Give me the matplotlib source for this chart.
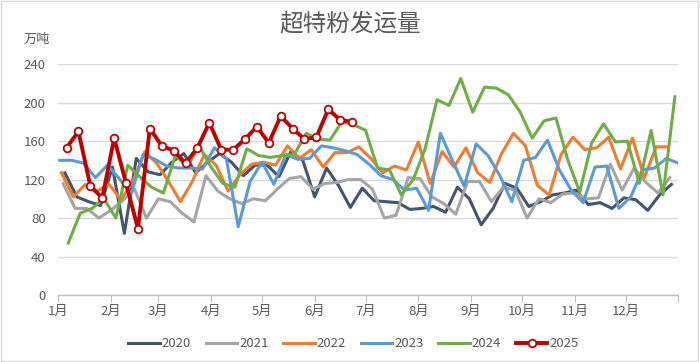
import numpy as np
import matplotlib
matplotlib.use("Agg")
import matplotlib.pyplot as plt
from matplotlib.patches import Rectangle

plt.rcParams["font.family"] = ["Noto Sans CJK SC", "DejaVu Sans"]

# ---------------- DATA ----------------

years = ["2020", "2021", "2022", "2023", "2024", "2025"]
colors = ["#44546A", "#A5A5A5", "#ED7D31", "#5B9BD5", "#70AD47", "#C00000"]

# first week day-of-year for each year (weekly data)
start_day = [4, 3, 2, 1, 6, 5]

v2020 = [127, 102, 97, 93, 133, 64, 142, 128, 125, 138,
         147, 127, 138, 147, 138, 124, 135, 135, 123, 149,
         140, 102, 132, 114, 91, 111, 98, 97, 96, 89,
         90, 92, 86, 112, 100, 73, 90, 116, 111, 92,
         97, 104, 106, 109, 94, 96, 90, 101, 99, 88,
         104, 115]
v2021 = [116, 90, 90, 80, 88, 98, 110, 80, 100, 97,
         85, 76, 124, 108, 100, 95, 100, 98, 110, 121,
         123, 110, 116, 117, 120, 120, 110, 80, 83, 122,
         121, 102, 95, 84, 118, 118, 97, 112, 109, 80,
         100, 96, 105, 106, 100, 101, 136, 109, 132, 117,
         106, 122]
v2022 = [127, 102, 115, 108, 115, 99, 118, 149, 137, 118,
         97, 118, 146, 135, 108, 125, 136, 138, 135, 155,
         142, 151, 133, 148, 148, 154, 142, 127, 134, 130,
         159, 116, 149, 133, 153, 127, 117, 147, 168, 155,
         114, 104, 146, 164, 151, 153, 164, 131, 163, 122,
         154, 154]
v2023 = [140, 140, 137, 122, 135, 121, 105, 146, 141, 134,
         132, 132, 131, 153, 142, 71, 118, 138, 115, 146,
         141, 142, 155, 153, 150, 146, 136, 124, 120, 109,
         111, 88, 168, 140, 113, 157, 145, 124, 97, 140,
         143, 161, 130, 109, 96, 133, 134, 90, 102, 130,
         132, 142, 137]
v2024 = [54, 85, 90, 100, 80, 135, 123, 112, 106, 145,
         133, 155, 133, 116, 112, 152, 145, 143, 145, 146,
         168, 162, 161, 180, 177, 171, 132, 130, 104, 120,
         152, 203, 197, 225, 190, 216, 215, 208, 190, 163,
         181, 184, 140, 107, 158, 178, 159, 160, 116, 171,
         104, 206]
v2025 = [153, 170, 113, 101, 163, 116, 69, 173, 155, 150,
         137, 153, 179, 151, 151, 162, 175, 158, 186, 173,
         162, 164, 193, 182, 180]

series = [v2020, v2021, v2022, v2023, v2024, v2025]

month_labels = ["1月", "2月", "3月", "4月", "5月", "6月",
                "7月", "8月", "9月", "10月", "11月", "12月"]
month_starts = [0, 31, 59, 90, 120, 151, 181, 212, 243, 273, 304, 334, 365]

# ---------------- PLOT ----------------

fig = plt.figure(figsize=(7.0, 3.62), dpi=100)
ax = fig.add_axes([0.083, 0.185, 0.886, 0.638])

for name, vals, c, s in zip(years, series, colors, start_day):
    x = s + 7 * np.arange(len(vals))
    if name == "2025":
        ax.plot(x, vals, color=c, lw=2.8, marker="o", ms=5.5,
                mfc="white", mec=c, mew=1.3, label=name, zorder=10)
    else:
        ax.plot(x, vals, color=c, lw=2.2, label=name,
                solid_joinstyle="round")

ax.set_xlim(0, 365)
ax.set_ylim(0, 240)
ax.set_yticks(range(0, 241, 40))
ax.set_xticks(month_starts)
ax.set_xticklabels(month_labels + [""])

ax.grid(axis="y", color="#D9D9D9", lw=1)
ax.set_axisbelow(True)
for sp in ["top", "right", "left"]:
    ax.spines[sp].set_visible(False)
ax.spines["bottom"].set_color("#BFBFBF")
ax.spines["bottom"].set_linewidth(1)

ax.tick_params(axis="y", length=0, labelsize=9.5, labelcolor="#595959", pad=9)
ax.tick_params(axis="x", direction="out", length=5, color="#BFBFBF",
               labelsize=9.5, labelcolor="#595959", pad=2)

fig.text(0.5, 0.935, "超特粉发运量", ha="center", va="center",
         fontsize=17, color="#595959")
fig.text(0.033, 0.89, "万吨", ha="left", va="center",
         fontsize=9.5, color="#595959")

fig.legend(loc="center", bbox_to_anchor=(0.505, 0.05), ncol=6, frameon=False,
           fontsize=9.5, handlelength=2.4, columnspacing=1.1, handletextpad=0.15,
           labelcolor="#595959")

# outer chart border
fig.patches.append(Rectangle((0.002, 0.003), 0.995, 0.994, transform=fig.transFigure,
                             fill=False, edgecolor="#D9D9D9", lw=1))

fig.savefig("out.png", dpi=100)
